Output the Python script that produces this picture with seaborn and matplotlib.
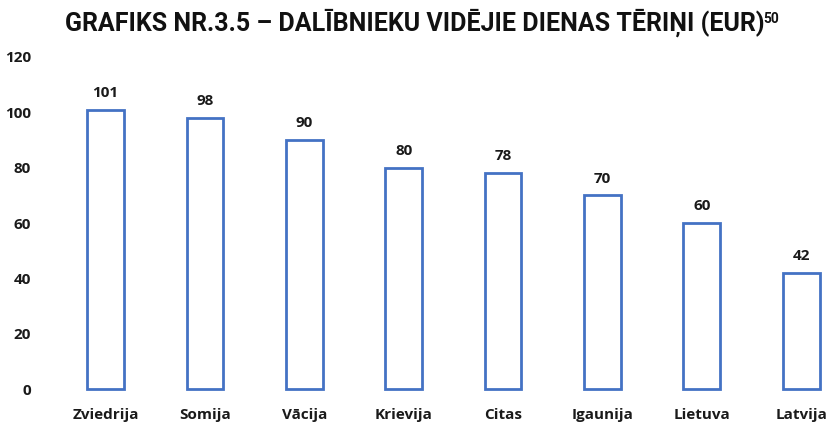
import pandas as pd
import matplotlib.pyplot as plt
import seaborn as sns

# ── DATA ─────────────────────────────────────────────
countries = ['Zviedrija', 'Somija', 'Vācija', 'Krievija', 'Citas',
             'Igaunija', 'Lietuva', 'Latvija']
spend = [101, 98, 90, 80, 78, 70, 60, 42]
y_ticks = [0, 20, 40, 60, 80, 100, 120]

df = pd.DataFrame({'country': countries, 'spend': spend})

sns.set_style('white')
plt.rcParams['font.family'] = ['Open Sans', 'DejaVu Sans']

fig = plt.figure(figsize=(8.29, 4.23), dpi=100)
ax = fig.add_axes([56 / 829, 34 / 423, 773 / 829, 332 / 423])

sns.barplot(data=df, x='country', y='spend', color='white',
            edgecolor='#4472C4', linewidth=2.0, width=0.37, ax=ax)
for p in ax.patches:
    p.set_clip_on(False)

ax.bar_label(ax.containers[0], padding=7, fontsize=11, fontweight='bold',
             color='#1a1a1a')

ax.set_ylim(0, 120)
ax.set_xlim(-0.5, 7.28)
ax.set_yticks(y_ticks)
ax.set_yticklabels([str(t) for t in y_ticks], fontsize=11,
                   fontweight='bold', color='#1a1a1a')
ax.set_xticks(range(len(countries)))
ax.set_xticklabels(countries, fontsize=11, fontweight='bold', color='#1a1a1a')
ax.tick_params(axis='both', length=0)
ax.tick_params(axis='y', pad=18)
ax.tick_params(axis='x', pad=14)
ax.set_xlabel('')
ax.set_ylabel('')
sns.despine(ax=ax, left=True, bottom=True)

# title with superscript footnote mark
title = fig.text(0.50, 0.947, 'GRAFIKS NR.3.5 – DALĪBNIEKU VIDĒJIE DIENAS TĒRIŅI (EUR)',
                 ha='center', va='center', fontsize=18, fontweight='bold',
                 family=['Roboto', 'DejaVu Sans'], color='#111111')
fig.canvas.draw()
bb = title.get_window_extent()
fig.text((bb.x1 - 1) / fig.bbox.width, (bb.y1 - 4) / fig.bbox.height, '50',
         ha='left', va='top', fontsize=10, fontweight='bold',
         family=['Roboto', 'DejaVu Sans'], color='#111111')

plt.savefig('out.png', dpi=100)
